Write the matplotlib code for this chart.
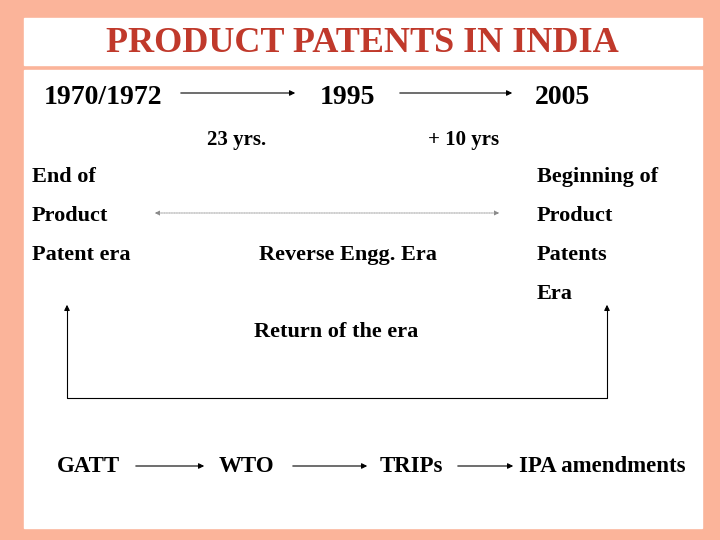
import matplotlib
matplotlib.use("Agg")
import matplotlib.pyplot as plt
from matplotlib.patches import Rectangle

years = ["1970/1972", "1995", "2005"]
year_x = [44, 320, 535]
gaps = ["23 yrs.", "+ 10 yrs"]
gap_x = [207, 428]
left_lines = ["End of", "Product", "Patent era"]
right_lines = ["Beginning of", "Product", "Patents", "Era"]
chain = ["GATT", "WTO", "TRIPs", "IPA amendments"]
chain_x = [57, 219, 380, 519]

fig = plt.figure(figsize=(7.2, 5.4), dpi=100)
fig.patch.set_facecolor("#FBB49A")
ax = fig.add_axes([0, 0, 1, 1])
ax.set_xlim(0, 720); ax.set_ylim(540, 0); ax.axis("off")
ax.add_patch(Rectangle((24, 18), 678, 47, color="white"))
ax.add_patch(Rectangle((24, 70), 678, 458, color="white"))

F = dict(family="Liberation Serif", weight="bold", color="black")
ax.text(362, 44, "PRODUCT PATENTS IN INDIA", ha="center", va="center",
        fontsize=26, family="Liberation Serif", weight="bold", color="#C0392B")

for t, x in zip(years, year_x):
    ax.text(x, 97, t, ha="left", va="center", fontsize=20, **F)
arr = dict(arrowstyle="-|>", color="black", lw=0.8, mutation_scale=8)
ax.annotate("", xy=(298, 93), xytext=(178, 93), arrowprops=arr)
ax.annotate("", xy=(515, 93), xytext=(397, 93), arrowprops=arr)
for t, x in zip(gaps, gap_x):
    ax.text(x, 140, t, ha="left", va="center", fontsize=15, **F)
for i, t in enumerate(left_lines):
    ax.text(32, 177 + 39 * i, t, ha="left", va="center", fontsize=16, **F)
for i, t in enumerate(right_lines):
    ax.text(537, 177 + 39 * i, t, ha="left", va="center", fontsize=16, **F)
ax.annotate("", xy=(152, 213), xytext=(502, 213),
            arrowprops=dict(arrowstyle="<|-|>", color="#888888", lw=0.6, mutation_scale=7, linestyle=(0, (1, 1))))
ax.text(348, 255, "Reverse Engg. Era", ha="center", va="center", fontsize=16, **F)
ax.text(336, 332, "Return of the era", ha="center", va="center", fontsize=16, **F)
ax.plot([67, 67, 607, 607], [310, 398, 398, 310], color="black", lw=0.8)
ax.annotate("", xy=(67, 302), xytext=(67, 312), arrowprops=arr)
ax.annotate("", xy=(607, 302), xytext=(607, 312), arrowprops=arr)

for t, x in zip(chain, chain_x):
    ax.text(x, 467, t, ha="left", va="center", fontsize=16.5, **F)
for x0, x1 in [(133, 207), (290, 370), (455, 516)]:
    ax.annotate("", xy=(x1, 466), xytext=(x0, 466), arrowprops=arr)

fig.savefig("out.png", dpi=100, facecolor=fig.get_facecolor())
